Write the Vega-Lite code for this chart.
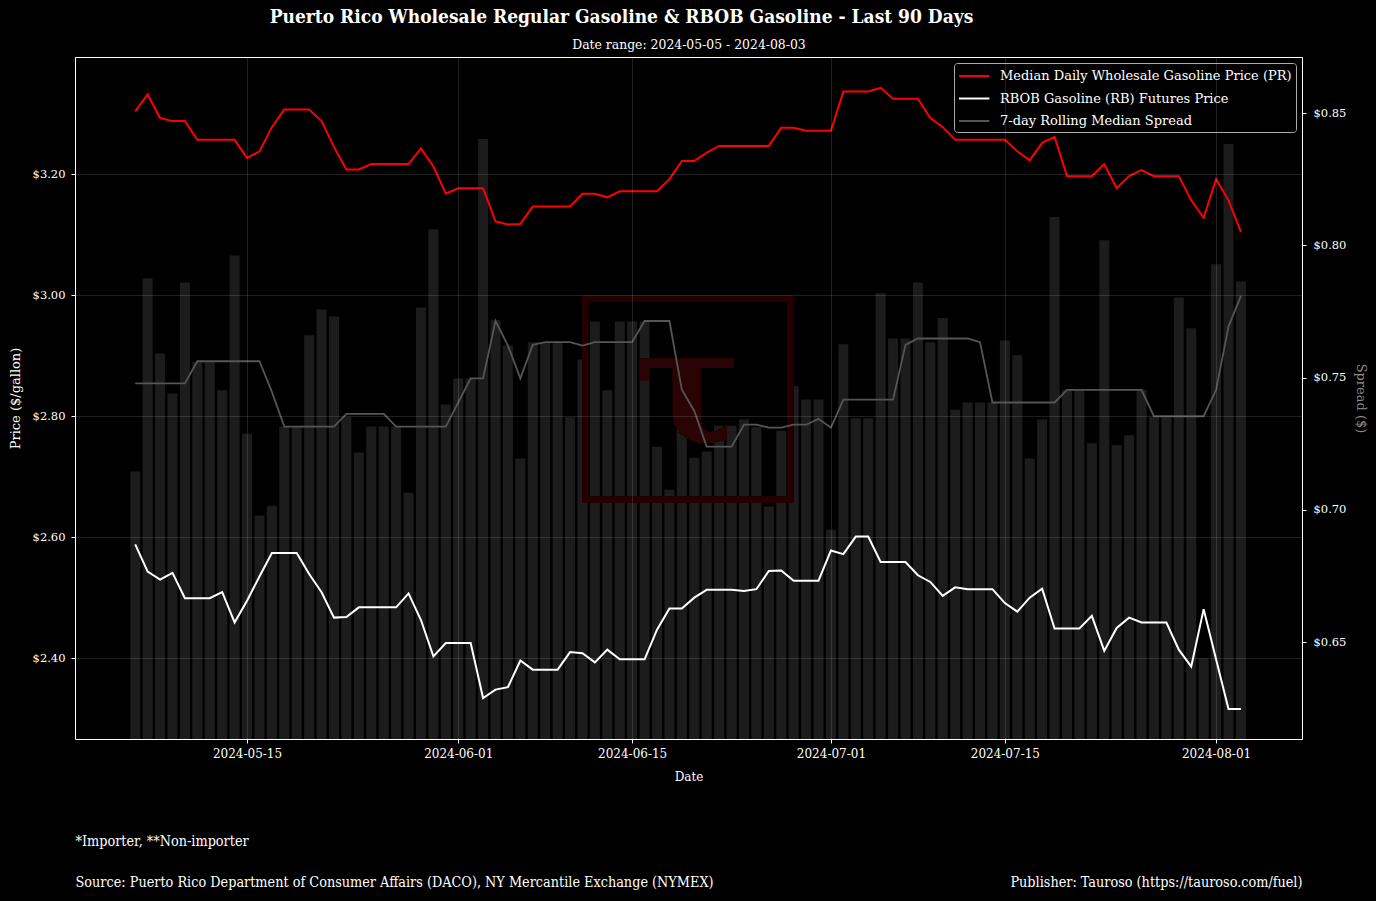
{
  "$schema": "https://vega.github.io/schema/vega-lite/v6.json",
  "width": 1227,
  "height": 682,
  "autosize": {"type": "none"},
  "padding": {"left": 75, "top": 57, "right": 74, "bottom": 162},
  "background": "#000000",
  "config": {
    "view": {"stroke": "#ffffff", "strokeWidth": 1, "fill": "#000000"},
    "axis": {"labelFont": "DejaVu Serif", "labelFontSize": 11.5, "labelColor": "#ffffff", "titleFont": "DejaVu Serif", "titleFontSize": 12, "titleFontWeight": "normal", "titleColor": "#ffffff", "tickColor": "#ffffff", "tickSize": 4, "labelPadding": 4, "domain": false, "gridColor": "#ffffff", "gridOpacity": 0.12, "gridWidth": 1}
  },
  "title": {"text": "Puerto Rico Wholesale Regular Gasoline & RBOB Gasoline - Last 90 Days", "font": "DejaVu Serif Condensed", "fontSize": 19, "fontWeight": "bold", "color": "#ffffff", "anchor": "middle", "frame": "group", "dx": -67, "offset": 10},
  "data": {"values": [
    {"d": "2024-05-06", "pr": 3.304, "rb": 2.588, "sp": 0.7145, "med": 0.7478},
    {"d": "2024-05-07", "pr": 3.332, "rb": 2.543, "sp": 0.7876, "med": 0.7478},
    {"d": "2024-05-08", "pr": 3.293, "rb": 2.530, "sp": 0.7591, "med": 0.7478},
    {"d": "2024-05-09", "pr": 3.288, "rb": 2.541, "sp": 0.7440, "med": 0.7478},
    {"d": "2024-05-10", "pr": 3.288, "rb": 2.499, "sp": 0.7860, "med": 0.7478},
    {"d": "2024-05-11", "pr": 3.257, "rb": 2.499, "sp": 0.7559, "med": 0.7562},
    {"d": "2024-05-12", "pr": 3.257, "rb": 2.499, "sp": 0.7559, "med": 0.7562},
    {"d": "2024-05-13", "pr": 3.257, "rb": 2.509, "sp": 0.7452, "med": 0.7562},
    {"d": "2024-05-14", "pr": 3.257, "rb": 2.459, "sp": 0.7962, "med": 0.7562},
    {"d": "2024-05-15", "pr": 3.227, "rb": 2.495, "sp": 0.7288, "med": 0.7562},
    {"d": "2024-05-16", "pr": 3.238, "rb": 2.535, "sp": 0.6979, "med": 0.7562},
    {"d": "2024-05-17", "pr": 3.278, "rb": 2.574, "sp": 0.7016, "med": 0.7446},
    {"d": "2024-05-18", "pr": 3.307, "rb": 2.574, "sp": 0.7315, "med": 0.7315},
    {"d": "2024-05-19", "pr": 3.307, "rb": 2.574, "sp": 0.7315, "med": 0.7315},
    {"d": "2024-05-20", "pr": 3.307, "rb": 2.539, "sp": 0.7660, "med": 0.7315},
    {"d": "2024-05-21", "pr": 3.288, "rb": 2.509, "sp": 0.7758, "med": 0.7315},
    {"d": "2024-05-22", "pr": 3.245, "rb": 2.467, "sp": 0.7731, "med": 0.7315},
    {"d": "2024-05-23", "pr": 3.208, "rb": 2.468, "sp": 0.7351, "med": 0.7363},
    {"d": "2024-05-24", "pr": 3.208, "rb": 2.484, "sp": 0.7217, "med": 0.7363},
    {"d": "2024-05-25", "pr": 3.217, "rb": 2.484, "sp": 0.7315, "med": 0.7363},
    {"d": "2024-05-26", "pr": 3.217, "rb": 2.484, "sp": 0.7315, "med": 0.7363},
    {"d": "2024-05-27", "pr": 3.217, "rb": 2.484, "sp": 0.7315, "med": 0.7315},
    {"d": "2024-05-28", "pr": 3.217, "rb": 2.507, "sp": 0.7065, "med": 0.7315},
    {"d": "2024-05-29", "pr": 3.243, "rb": 2.463, "sp": 0.7765, "med": 0.7315},
    {"d": "2024-05-30", "pr": 3.213, "rb": 2.403, "sp": 0.8061, "med": 0.7315},
    {"d": "2024-05-31", "pr": 3.168, "rb": 2.425, "sp": 0.7398, "med": 0.7315},
    {"d": "2024-06-01", "pr": 3.177, "rb": 2.425, "sp": 0.7497, "med": 0.7406},
    {"d": "2024-06-02", "pr": 3.177, "rb": 2.425, "sp": 0.7497, "med": 0.7497},
    {"d": "2024-06-03", "pr": 3.177, "rb": 2.334, "sp": 0.8402, "med": 0.7497},
    {"d": "2024-06-04", "pr": 3.122, "rb": 2.348, "sp": 0.7717, "med": 0.7714},
    {"d": "2024-06-05", "pr": 3.117, "rb": 2.352, "sp": 0.7621, "med": 0.7621},
    {"d": "2024-06-06", "pr": 3.118, "rb": 2.396, "sp": 0.7194, "med": 0.7497},
    {"d": "2024-06-07", "pr": 3.147, "rb": 2.381, "sp": 0.7634, "med": 0.7624},
    {"d": "2024-06-08", "pr": 3.147, "rb": 2.381, "sp": 0.7634, "med": 0.7634},
    {"d": "2024-06-09", "pr": 3.147, "rb": 2.381, "sp": 0.7634, "med": 0.7634},
    {"d": "2024-06-10", "pr": 3.147, "rb": 2.410, "sp": 0.7350, "med": 0.7634},
    {"d": "2024-06-11", "pr": 3.168, "rb": 2.408, "sp": 0.7569, "med": 0.7621},
    {"d": "2024-06-12", "pr": 3.168, "rb": 2.393, "sp": 0.7712, "med": 0.7634},
    {"d": "2024-06-13", "pr": 3.162, "rb": 2.414, "sp": 0.7452, "med": 0.7634},
    {"d": "2024-06-14", "pr": 3.172, "rb": 2.398, "sp": 0.7712, "med": 0.7634},
    {"d": "2024-06-15", "pr": 3.172, "rb": 2.398, "sp": 0.7712, "med": 0.7634},
    {"d": "2024-06-16", "pr": 3.172, "rb": 2.398, "sp": 0.7712, "med": 0.7714},
    {"d": "2024-06-17", "pr": 3.172, "rb": 2.447, "sp": 0.7239, "med": 0.7714},
    {"d": "2024-06-18", "pr": 3.192, "rb": 2.482, "sp": 0.7076, "med": 0.7714},
    {"d": "2024-06-19", "pr": 3.222, "rb": 2.482, "sp": 0.7374, "med": 0.7454},
    {"d": "2024-06-20", "pr": 3.222, "rb": 2.500, "sp": 0.7197, "med": 0.7374},
    {"d": "2024-06-21", "pr": 3.236, "rb": 2.513, "sp": 0.7221, "med": 0.7239},
    {"d": "2024-06-22", "pr": 3.247, "rb": 2.513, "sp": 0.7318, "med": 0.7239},
    {"d": "2024-06-23", "pr": 3.247, "rb": 2.513, "sp": 0.7318, "med": 0.7239},
    {"d": "2024-06-24", "pr": 3.247, "rb": 2.511, "sp": 0.7342, "med": 0.7322},
    {"d": "2024-06-25", "pr": 3.247, "rb": 2.514, "sp": 0.7312, "med": 0.7322},
    {"d": "2024-06-26", "pr": 3.247, "rb": 2.544, "sp": 0.7013, "med": 0.7311},
    {"d": "2024-06-27", "pr": 3.277, "rb": 2.545, "sp": 0.7299, "med": 0.7311},
    {"d": "2024-06-28", "pr": 3.277, "rb": 2.528, "sp": 0.7467, "med": 0.7322},
    {"d": "2024-06-29", "pr": 3.272, "rb": 2.528, "sp": 0.7417, "med": 0.7322},
    {"d": "2024-06-30", "pr": 3.272, "rb": 2.528, "sp": 0.7417, "med": 0.7344},
    {"d": "2024-07-01", "pr": 3.272, "rb": 2.578, "sp": 0.6925, "med": 0.7311},
    {"d": "2024-07-02", "pr": 3.337, "rb": 2.572, "sp": 0.7626, "med": 0.7417},
    {"d": "2024-07-03", "pr": 3.337, "rb": 2.601, "sp": 0.7346, "med": 0.7417},
    {"d": "2024-07-04", "pr": 3.337, "rb": 2.601, "sp": 0.7346, "med": 0.7417},
    {"d": "2024-07-05", "pr": 3.343, "rb": 2.559, "sp": 0.7819, "med": 0.7417},
    {"d": "2024-07-06", "pr": 3.325, "rb": 2.559, "sp": 0.7648, "med": 0.7417},
    {"d": "2024-07-07", "pr": 3.325, "rb": 2.559, "sp": 0.7648, "med": 0.7624},
    {"d": "2024-07-08", "pr": 3.325, "rb": 2.537, "sp": 0.7860, "med": 0.7648},
    {"d": "2024-07-09", "pr": 3.293, "rb": 2.526, "sp": 0.7634, "med": 0.7648},
    {"d": "2024-07-10", "pr": 3.278, "rb": 2.503, "sp": 0.7725, "med": 0.7648},
    {"d": "2024-07-11", "pr": 3.257, "rb": 2.517, "sp": 0.7379, "med": 0.7648},
    {"d": "2024-07-12", "pr": 3.257, "rb": 2.514, "sp": 0.7406, "med": 0.7648},
    {"d": "2024-07-13", "pr": 3.257, "rb": 2.514, "sp": 0.7406, "med": 0.7634},
    {"d": "2024-07-14", "pr": 3.257, "rb": 2.514, "sp": 0.7406, "med": 0.7406},
    {"d": "2024-07-15", "pr": 3.257, "rb": 2.491, "sp": 0.7640, "med": 0.7406},
    {"d": "2024-07-16", "pr": 3.238, "rb": 2.477, "sp": 0.7585, "med": 0.7406},
    {"d": "2024-07-17", "pr": 3.223, "rb": 2.500, "sp": 0.7194, "med": 0.7406},
    {"d": "2024-07-18", "pr": 3.252, "rb": 2.515, "sp": 0.7342, "med": 0.7406},
    {"d": "2024-07-19", "pr": 3.262, "rb": 2.449, "sp": 0.8107, "med": 0.7406},
    {"d": "2024-07-20", "pr": 3.197, "rb": 2.449, "sp": 0.7454, "med": 0.7454},
    {"d": "2024-07-21", "pr": 3.197, "rb": 2.449, "sp": 0.7454, "med": 0.7454},
    {"d": "2024-07-22", "pr": 3.197, "rb": 2.470, "sp": 0.7252, "med": 0.7454},
    {"d": "2024-07-23", "pr": 3.217, "rb": 2.412, "sp": 0.8019, "med": 0.7454},
    {"d": "2024-07-24", "pr": 3.177, "rb": 2.450, "sp": 0.7244, "med": 0.7454},
    {"d": "2024-07-25", "pr": 3.197, "rb": 2.467, "sp": 0.7282, "med": 0.7454},
    {"d": "2024-07-26", "pr": 3.207, "rb": 2.459, "sp": 0.7454, "med": 0.7454},
    {"d": "2024-07-27", "pr": 3.197, "rb": 2.459, "sp": 0.7350, "med": 0.7354},
    {"d": "2024-07-28", "pr": 3.197, "rb": 2.459, "sp": 0.7350, "med": 0.7354},
    {"d": "2024-07-29", "pr": 3.197, "rb": 2.414, "sp": 0.7803, "med": 0.7354},
    {"d": "2024-07-30", "pr": 3.157, "rb": 2.386, "sp": 0.7687, "med": 0.7354},
    {"d": "2024-07-31", "pr": 3.128, "rb": 2.481, "sp": 0.6438, "med": 0.7354},
    {"d": "2024-08-01", "pr": 3.192, "rb": 2.398, "sp": 0.7929, "med": 0.7454},
    {"d": "2024-08-02", "pr": 3.157, "rb": 2.316, "sp": 0.8383, "med": 0.7693},
    {"d": "2024-08-03", "pr": 3.105, "rb": 2.316, "sp": 0.7863, "med": 0.7809}
  ]},
  "resolve": {"scale": {"y": "independent"}, "axis": {"x": "independent", "y": "independent"}},
  "layer": [
    {
      "mark": {"type": "bar", "color": "#1c1c1c", "size": 10, "clip": true},
      "encoding": {
        "x": {"field": "d", "type": "temporal",
          "scale": {"type": "utc", "padding": 0, "domain": [{"year": 2024, "month": 5, "date": 1, "hours": 3, "minutes": 40, "utc": true}, {"year": 2024, "month": 8, "date": 7, "hours": 22, "utc": true}]},
          "axis": {"orient": "bottom", "title": "Date", "format": "%Y-%m-%d", "labelFontSize": 12, "labelPadding": 5, "titlePadding": 12, "grid": true, "zindex": 1,
            "values": [{"year": 2024, "month": 5, "date": 15, "utc": true}, {"year": 2024, "month": 6, "date": 1, "utc": true}, {"year": 2024, "month": 6, "date": 15, "utc": true}, {"year": 2024, "month": 7, "date": 1, "utc": true}, {"year": 2024, "month": 7, "date": 15, "utc": true}, {"year": 2024, "month": 8, "date": 1, "utc": true}]}},
        "y": {"field": "sp", "type": "quantitative", "scale": {"domain": [0.6134, 0.8712], "zero": false, "nice": false},
          "axis": {"orient": "right", "title": "Spread ($)", "titleColor": "#888888", "titleFontSize": 13, "format": "$.2f", "values": [0.65, 0.70, 0.75, 0.80, 0.85], "grid": false, "labelPadding": 7, "titlePadding": 8}}
      }
    },
    {
      "mark": {"type": "rect", "filled": false, "stroke": "#250000", "strokeWidth": 6},
      "encoding": {
        "x": {"datum": {"year": 2024, "month": 6, "date": 11, "hours": 5, "utc": true}, "type": "temporal", "axis": null},
        "x2": {"datum": {"year": 2024, "month": 6, "date": 27, "hours": 17, "utc": true}},
        "y": {"datum": 2.995, "type": "quantitative", "scale": {"domain": [2.2663, 3.394], "zero": false, "nice": false}, "axis": null},
        "y2": {"datum": 2.662}
      }
    },
    {
      "mark": {"type": "text", "text": "τ", "font": "DejaVu Serif", "fontSize": 160, "fontWeight": "bold", "color": "#2a0404", "align": "center", "baseline": "middle", "dy": -8},
      "encoding": {
        "x": {"datum": {"year": 2024, "month": 6, "date": 19, "hours": 12, "utc": true}, "type": "temporal",
          "axis": {"orient": "bottom", "offset": 136, "title": "Publisher: Tauroso (https://tauroso.com/fuel)", "titleAnchor": "end", "titleFont": "DejaVu Serif Condensed", "titleFontSize": 14.3, "titlePadding": 0, "labels": false, "ticks": false, "grid": false}},
        "y": {"datum": 2.825, "type": "quantitative", "scale": {"domain": [2.2663, 3.394], "zero": false, "nice": false}, "axis": null}
      }
    },
    {
      "mark": {"type": "line", "strokeWidth": 1.8},
      "encoding": {
        "x": {"field": "d", "type": "temporal",
          "axis": {"orient": "bottom", "offset": 136, "title": "Source: Puerto Rico Department of Consumer Affairs (DACO), NY Mercantile Exchange (NYMEX)", "titleAnchor": "start", "titleFont": "DejaVu Serif Condensed", "titleFontSize": 14.3, "titlePadding": 0, "labels": false, "ticks": false, "grid": false}},
        "y": {"field": "med", "type": "quantitative", "scale": {"domain": [0.6134, 0.8712], "zero": false, "nice": false}, "axis": null},
        "color": {"datum": "7-day Rolling Median Spread"}
      }
    },
    {
      "mark": {"type": "line", "strokeWidth": 2},
      "encoding": {
        "x": {"field": "d", "type": "temporal",
          "axis": {"orient": "top", "title": "Date range: 2024-05-05 - 2024-08-03", "titleFont": "DejaVu Serif Condensed", "titleFontSize": 13.8, "titlePadding": 6, "labels": false, "ticks": false, "grid": false}},
        "y": {"field": "pr", "type": "quantitative", "scale": {"domain": [2.2663, 3.394], "zero": false, "nice": false},
          "axis": {"orient": "left", "title": "Price ($/gallon)", "titleFontSize": 13, "format": "$.2f", "values": [2.4, 2.6, 2.8, 3.0, 3.2], "grid": true, "zindex": 1, "labelPadding": 6, "titlePadding": 10}},
        "color": {"datum": "Median Daily Wholesale Gasoline Price (PR)", "type": "nominal",
          "scale": {"domain": ["Median Daily Wholesale Gasoline Price (PR)", "RBOB Gasoline (RB) Futures Price", "7-day Rolling Median Spread"], "range": ["#ff0000", "#ffffff", "#555555"]},
          "legend": {"title": null, "orient": "top-right", "offset": 6, "fillColor": "#000000", "strokeColor": "#aaaaaa", "cornerRadius": 3, "padding": 4, "labelColor": "#ffffff", "labelFont": "DejaVu Serif", "labelFontSize": 13, "labelLimit": 500, "symbolType": "M-1,0H2.8", "symbolStrokeWidth": 2, "symbolSize": 256, "rowPadding": 6.5, "labelOffset": 24}}
      }
    },
    {
      "mark": {"type": "line", "strokeWidth": 2},
      "encoding": {
        "x": {"field": "d", "type": "temporal",
          "axis": {"orient": "bottom", "offset": 95, "title": "*Importer, **Non-importer", "titleAnchor": "start", "titleFont": "DejaVu Serif Condensed", "titleFontSize": 14.3, "titlePadding": 0, "labels": false, "ticks": false, "grid": false}},
        "y": {"field": "rb", "type": "quantitative", "scale": {"domain": [2.2663, 3.394], "zero": false, "nice": false}, "axis": null},
        "color": {"datum": "RBOB Gasoline (RB) Futures Price"}
      }
    }
  ]
}
